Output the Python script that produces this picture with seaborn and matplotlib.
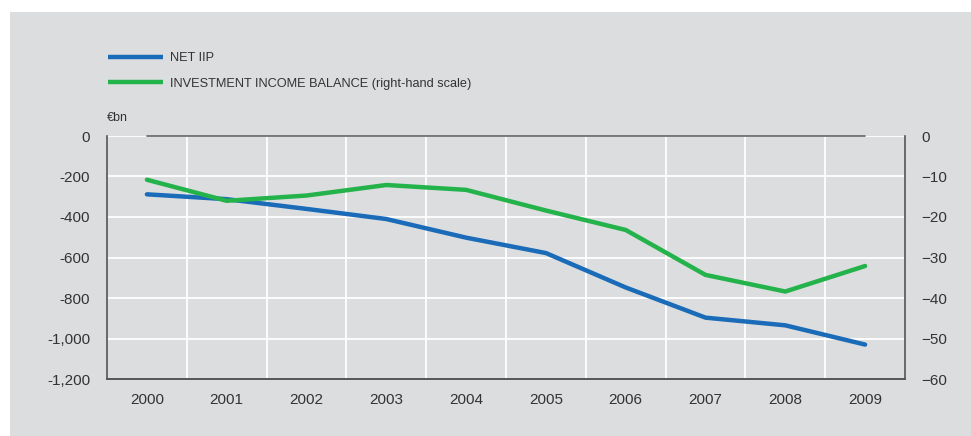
import numpy as np
import pandas as pd
import seaborn as sns
import matplotlib.pyplot as plt
from matplotlib.patches import Rectangle
from matplotlib.lines import Line2D
from matplotlib.ticker import FuncFormatter

years = ['2000', '2001', '2002', '2003', '2004', '2005', '2006', '2007', '2008', '2009']
net_iip = [-288, -312, -360, -410, -502, -578, -748, -897, -935, -1030]
inv_income = [-10.8, -16.0, -14.7, -12.1, -13.3, -18.4, -23.2, -34.3, -38.4, -32.1]

left_ticks = [0, -200, -400, -600, -800, -1000, -1200]
right_ticks = [0, -10, -20, -30, -40, -50, -60]

BLUE = '#1a6bb8'
GREEN = '#24b34b'
BG = '#dcdddf'
TXT = '#333333'

sns.set_theme(style='white')
plt.rcParams['font.family'] = ['Liberation Sans', 'DejaVu Sans']

df = pd.DataFrame({'year': years, 'iip': net_iip, 'inc': inv_income})
df['x'] = np.arange(len(years))

fig = plt.figure(figsize=(9.71, 4.36), dpi=100)
fig.patch.set_facecolor('white')
fig.patches.append(Rectangle((10 / 971, 0), 961 / 971, 424 / 436,
                             transform=fig.transFigure, facecolor=BG,
                             edgecolor='none', zorder=0))

ax = fig.add_axes([107 / 971, 1 - 379 / 436, 798 / 971, 243 / 436])
ax.set_facecolor(BG)
ax2 = ax.twinx()

sns.lineplot(data=df, x='x', y='iip', ax=ax, color=BLUE, linewidth=3.2, zorder=4)
sns.lineplot(data=df, x='x', y='inc', ax=ax2, color=GREEN, linewidth=3.2, zorder=4)

ax.set_xlim(-0.5, 9.5)
ax.set_ylim(-1200, 0)
ax2.set_ylim(-60, 0)

ax.set_xticks(df['x'])
ax.set_xticklabels(years)
ax.set_yticks(left_ticks)
ax.yaxis.set_major_formatter(FuncFormatter(lambda v, p: f'{int(v):,}'))
ax2.set_yticks(right_ticks)

# grid: horizontal at ticks, vertical between years
for t in left_ticks:
    ax.axhline(t, color='white', linewidth=1.3, zorder=1)
for xv in np.arange(0.5, 9.5, 1):
    ax.axvline(xv, color='white', linewidth=1.3, zorder=1)
ax.plot([0, 9], [0, 0], color='#666666', linewidth=1.2, zorder=2, clip_on=False)

for a in (ax, ax2):
    a.set_xlabel('')
    a.set_ylabel('')
    a.spines['top'].set_visible(False)
    for s in ('left', 'right', 'bottom'):
        a.spines[s].set_color('#555555')
        a.spines[s].set_linewidth(1.2)
    a.tick_params(axis='both', length=0, labelsize=11, labelcolor=TXT, pad=12)
ax.tick_params(axis='x', pad=10)
ax2.spines['left'].set_visible(False)
ax.spines['right'].set_visible(False)
ax.set_zorder(1)
ax2.set_zorder(2)
ax2.patch.set_visible(False)

fig.text(107 / 971, 1 - 118 / 436, '€bn', fontsize=9, color=TXT, va='center', ha='left')

handles = [Line2D([], [], color=BLUE, linewidth=3.2, solid_capstyle='butt'),
           Line2D([], [], color=GREEN, linewidth=3.2, solid_capstyle='butt')]
labels = ['NET IIP', 'INVESTMENT INCOME BALANCE (right-hand scale)']
fig.legend(handles, labels, loc='upper left', bbox_to_anchor=(103 / 971, 1 - 47 / 436),
           frameon=False, fontsize=9.2, labelcolor=TXT, handlelength=4.3,
           handletextpad=0.55, labelspacing=1.05, borderaxespad=0)

fig.savefig('out.png', dpi=100, facecolor='white')
